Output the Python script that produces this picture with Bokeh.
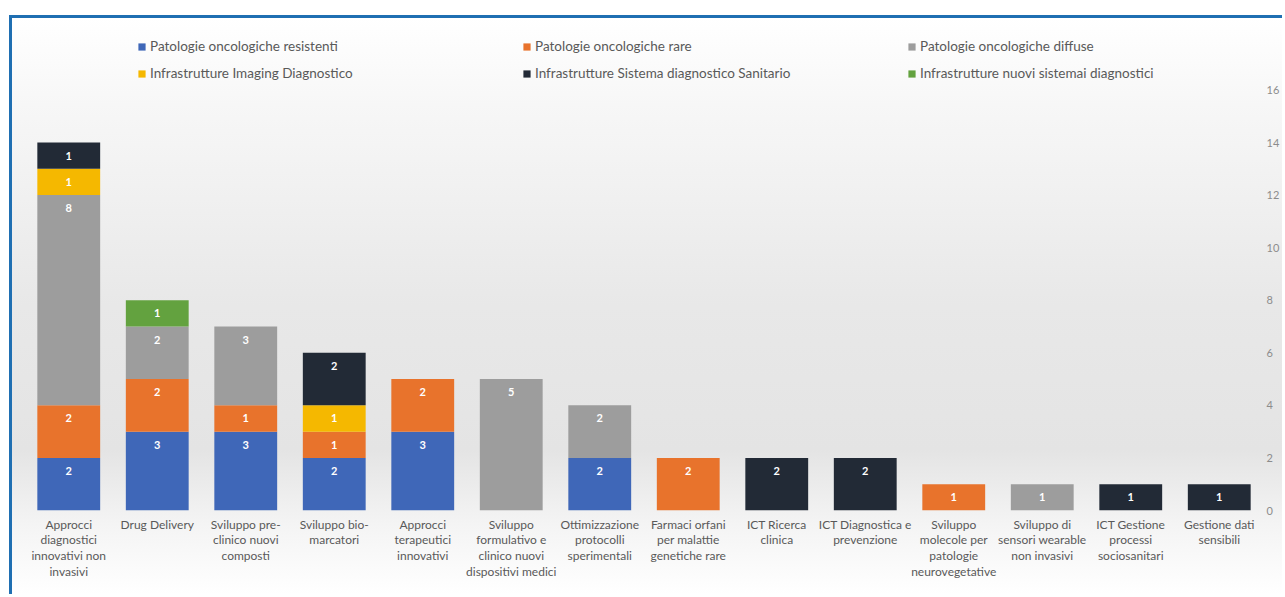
import numpy as np
from bokeh.plotting import figure
from bokeh.layouts import column
from bokeh.models import ColumnDataSource, FixedTicker, Legend, LegendItem, Range1d
from bokeh.core.properties import value
from bokeh.embed import file_html
from bokeh.resources import INLINE

categories = [
    "Approcci\ndiagnostici\ninnovativi non\ninvasivi",
    "Drug Delivery",
    "Sviluppo pre-\nclinico nuovi\ncomposti",
    "Sviluppo bio-\nmarcatori",
    "Approcci\nterapeutici\ninnovativi",
    "Sviluppo\nformulativo e\nclinico nuovi\ndispositivi medici",
    "Ottimizzazione\nprotocolli\nsperimentali",
    "Farmaci orfani\nper malattie\ngenetiche rare",
    "ICT Ricerca\nclinica",
    "ICT Diagnostica e\nprevenzione",
    "Sviluppo\nmolecole per\npatologie\nneurovegetative",
    "Sviluppo di\nsensori wearable\nnon invasivi",
    "ICT Gestione\nprocessi\nsociosanitari",
    "Gestione dati\nsensibili",
]
resistenti = [2, 3, 3, 2, 3, 0, 2, 0, 0, 0, 0, 0, 0, 0]
rare       = [2, 2, 1, 1, 2, 0, 0, 2, 0, 0, 1, 0, 0, 0]
diffuse    = [8, 2, 3, 0, 0, 5, 2, 0, 0, 0, 0, 1, 0, 0]
imaging    = [1, 0, 0, 1, 0, 0, 0, 0, 0, 0, 0, 0, 0, 0]
sistema    = [1, 0, 0, 2, 0, 0, 0, 0, 2, 2, 0, 0, 1, 1]
nuovi      = [0, 1, 0, 0, 0, 0, 0, 0, 0, 0, 0, 0, 0, 0]
series_names = [
    "Patologie oncologiche resistenti",
    "Patologie oncologiche rare",
    "Patologie oncologiche diffuse",
    "Infrastrutture Imaging Diagnostico",
    "Infrastrutture Sistema diagnostico Sanitario",
    "Infrastrutture nuovi sistemai diagnostici",
]
y_ticks = [0, 2, 4, 6, 8, 10, 12, 14, 16]

colors = ["#3f67b8", "#e8732c", "#9d9d9d", "#f5b800", "#222a36", "#63a23f"]
series = [resistenti, rare, diffuse, imaging, sistema, nuovi]
keys = ["s%d" % i for i in range(len(series))]

xs = list(range(len(categories)))
data = {"x": xs}
for k, s in zip(keys, series):
    data[k] = s
src = ColumnDataSource(data)

FONT = "Lato"

p = figure(width=1273, height=579, output_backend="svg", toolbar_location=None,
           x_range=Range1d(-0.5, len(categories) - 0.5), y_range=Range1d(0, 18.72),
           y_axis_location="right", min_border_left=12, min_border_top=0,
           min_border_right=0, min_border_bottom=84)
p.background_fill_color = None
p.border_fill_color = None
p.outline_line_color = None
p.grid.visible = False

renderers = p.vbar_stack(keys, x="x", width=0.71, source=src, color=colors, line_color=None)

# data labels
cum = np.zeros(len(categories))
for s in series:
    arr = np.array(s, dtype=float)
    top = cum + arr
    mask = arr > 0
    lsrc = ColumnDataSource(dict(x=[x for x, m in zip(xs, mask) if m],
                                 y=list(top[mask]),
                                 t=[str(int(v)) for v in arr[mask]]))
    p.text(x="x", y="y", text="t", source=lsrc, text_color="white",
           text_font=value(FONT), text_font_size="11px", text_font_style="bold",
           text_align="center", text_baseline="middle", y_offset=13)
    cum = top

items = [LegendItem(label=n, renderers=[r]) for n, r in zip(series_names, renderers)]
legend = Legend(items=items, orientation="horizontal", ncols=3, location=(113, 425),
                glyph_width=9, glyph_height=9, label_height=24, label_width=369,
                spacing=3, padding=0, margin=0, label_standoff=4,
                label_text_font=FONT, label_text_font_size="13.5px",
                label_text_color="#595959", background_fill_alpha=0,
                border_line_color=None)
p.add_layout(legend, "center")

p.xaxis.ticker = FixedTicker(ticks=xs)
p.xaxis.major_label_overrides = {i: c for i, c in enumerate(categories)}
p.xaxis.axis_line_color = None
p.xaxis.major_tick_line_color = None
p.xaxis.major_tick_out = 0
p.xaxis.major_tick_in = 0
p.xaxis.minor_tick_line_color = None
p.xaxis.major_label_text_font = FONT
p.xaxis.major_label_text_font_size = "12px"
p.xaxis.major_label_text_line_height = 1.05
p.xaxis.major_label_text_color = "#595959"
p.xaxis.major_label_standoff = 6

p.yaxis.ticker = FixedTicker(ticks=y_ticks)
p.yaxis.axis_line_color = None
p.yaxis.major_tick_line_color = None
p.yaxis.major_tick_out = 0
p.yaxis.major_tick_in = 0
p.yaxis.minor_tick_line_color = None
p.yaxis.major_label_text_font = FONT
p.yaxis.major_label_text_font_size = "11px"
p.yaxis.major_label_text_color = "#8c8c8c"
p.yaxis.major_label_standoff = 3

layout = column(p, width=1273, height=579, styles={
    "overflow": "hidden",
    "border-top": "3px solid #1f6fb2",
    "border-left": "3px solid #1f6fb2",
    "margin-top": "15px",
    "margin-left": "9px",
    "background": "linear-gradient(to bottom, #ffffff 0%, #f7f7f7 15%, #e8e8e8 50%, #e4e4e4 75%, #f4f4f4 88%, #ffffff 100%)",
})

open("out.html", "w").write(file_html(layout, INLINE))
